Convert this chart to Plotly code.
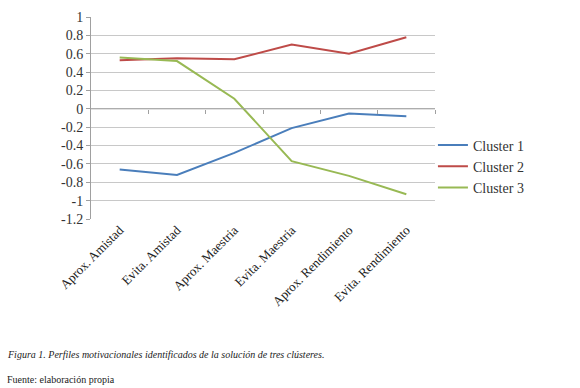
import plotly.graph_objects as go

categories = ["Aprox. Amistad", "Evita. Amistad", "Aprox. Maestria", "Evita. Maestria",
              "Aprox. Rendimiento", "Evita. Rendimiento"]
cluster1 = [-0.66, -0.72, -0.48, -0.21, -0.05, -0.08]
cluster2 = [0.53, 0.55, 0.54, 0.70, 0.60, 0.78]
cluster3 = [0.56, 0.52, 0.11, -0.57, -0.73, -0.93]
y_ticks = [1, 0.8, 0.6, 0.4, 0.2, 0, -0.2, -0.4, -0.6, -0.8, -1, -1.2]

series = [("Cluster 1", cluster1, "#4A7EBB"),
          ("Cluster 2", cluster2, "#BE4B48"),
          ("Cluster 3", cluster3, "#98B954")]

fig = go.Figure()
xs = list(range(len(categories)))
for name, vals, col in series:
    fig.add_trace(go.Scatter(x=xs, y=vals, name=name, mode="lines",
                             line=dict(color=col, width=2)))

# zero line carrying the category tick marks
fig.add_trace(go.Scatter(x=[-0.5, 5.5], y=[0, 0], xaxis="x2", mode="lines",
                         line=dict(color="#A0A0A0", width=1), showlegend=False,
                         hoverinfo="skip"))

font_family = "Liberation Serif, Times New Roman, serif"
fig.update_layout(
    width=580, height=388,
    margin=dict(l=91, r=145, t=17, b=169, autoexpand=False),
    paper_bgcolor="white", plot_bgcolor="white",
    font=dict(family=font_family, size=13, color="#333333"),
    showlegend=True,
    legend=dict(x=0.994, y=0.26, xanchor="left", yanchor="middle",
                font=dict(family=font_family, size=14, color="#333333"),
                itemwidth=30, tracegroupgap=0, bgcolor="rgba(0,0,0,0)"),
    xaxis=dict(range=[-0.5, 5.5], tickmode="array", tickvals=xs,
               ticktext=categories, tickangle=-45, showgrid=False,
               zeroline=False, showline=False, ticks="", automargin=False,
               tickfont=dict(family=font_family, size=13, color="#222222")),
    xaxis2=dict(range=[-0.5, 5.5], overlaying="x", anchor="free",
                position=1.2 / 2.2, tickmode="array",
                tickvals=[0.5, 1.5, 2.5, 3.5, 4.5, 5.5],
                showticklabels=False, ticks="outside", ticklen=4,
                tickcolor="#A0A0A0", showgrid=False, zeroline=False,
                showline=False),
    yaxis=dict(range=[-1.2, 1], tickmode="array", tickvals=y_ticks,
               ticktext=[("%g" % v) for v in y_ticks],
               showgrid=True, gridcolor="#C8C8C8", gridwidth=1,
               zeroline=False, showline=True, linecolor="#A0A0A0",
               ticks="outside", ticklen=4, tickcolor="#A0A0A0", automargin=False,
               tickfont=dict(family=font_family, size=14, color="#333333")),
    annotations=[
        dict(text="<i>Figura 1. Perfiles motivacionales identificados de la solución de tres clústeres.</i>",
             xref="paper", yref="paper", x=(5 - 91) / 344, y=(219 - 354) / 202,
             xanchor="left", yanchor="middle", showarrow=False,
             font=dict(family=font_family, size=10, color="#222222")),
        dict(text="Fuente: elaboración propia",
             xref="paper", yref="paper", x=(5 - 91) / 344, y=(219 - 379) / 202,
             xanchor="left", yanchor="middle", showarrow=False,
             font=dict(family=font_family, size=10, color="#222222")),
    ],
)

fig.write_html("out.html", config={"displayModeBar": False},
               post_script="document.body.style.margin='0';")
